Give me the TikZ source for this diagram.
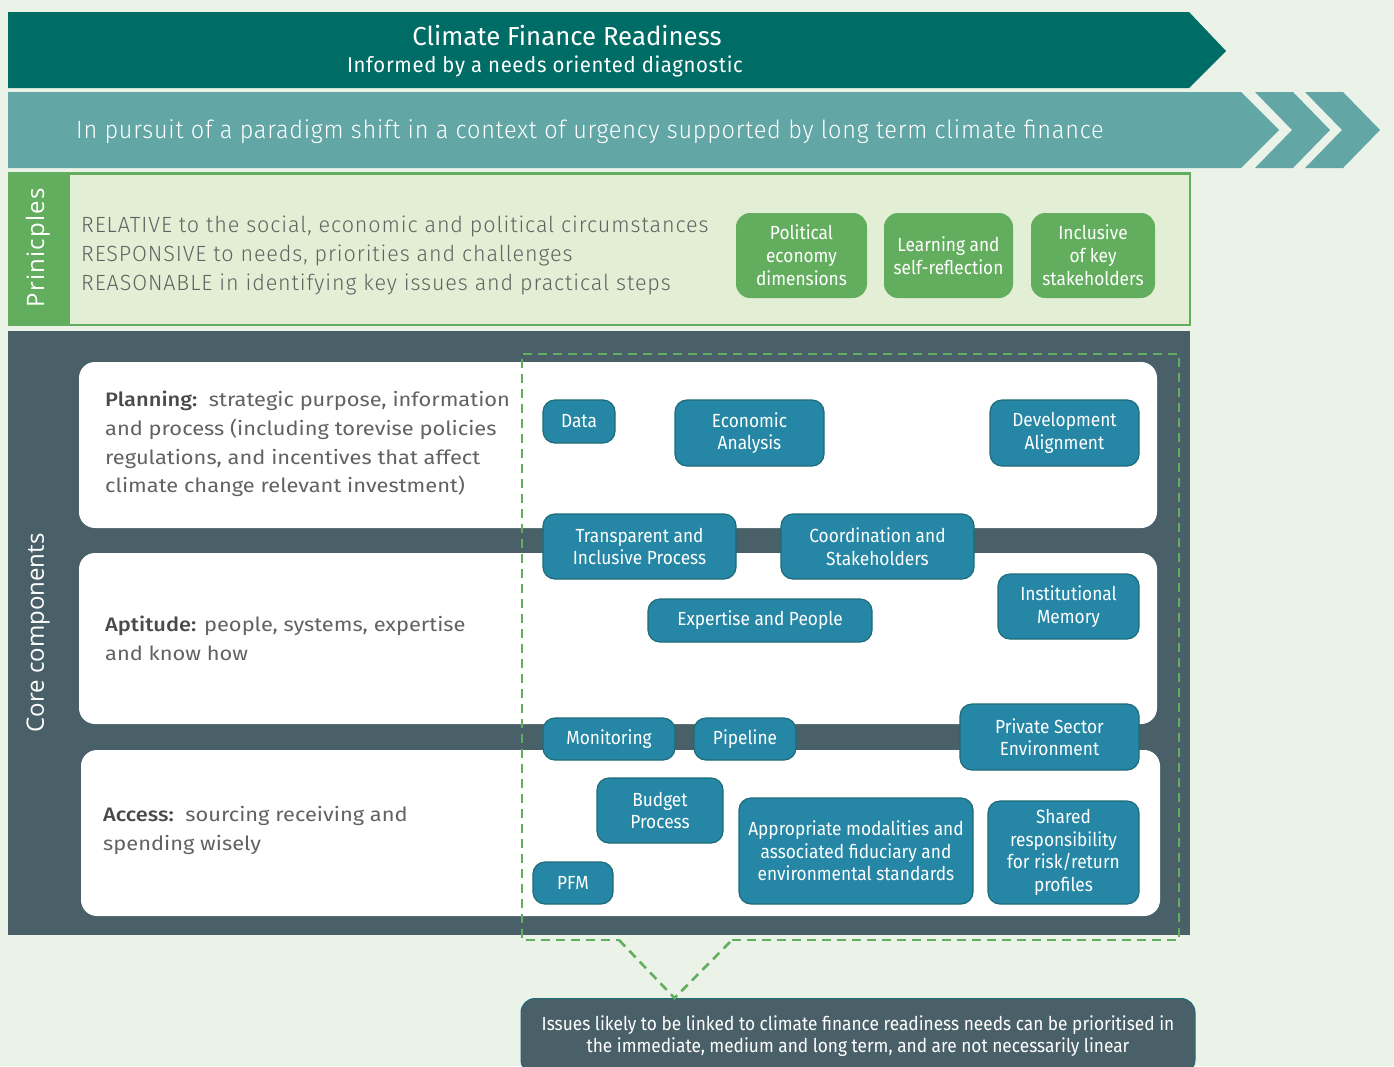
\documentclass[tikz,border=0pt]{standalone}
\usepackage{fontspec}
\usetikzlibrary{calc}
\setmainfont{Fira Sans}
\newfontfamily\condf[FakeStretch=0.91]{Fira Sans}
\newfontfamily\titlef[FakeStretch=0.99]{Fira Sans}
\newfontfamily\subf[FakeStretch=0.95,LetterSpace=3]{Fira Sans}
\newfontfamily\bannerf[FakeStretch=0.94,LetterSpace=3]{Fira Sans Light}
\newfontfamily\princf[FakeStretch=0.98,LetterSpace=4]{Fira Sans Light}
\newfontfamily\bodyf[FakeStretch=1.12,BoldFont={Fira Sans Medium}]{Fira Sans}
\newfontfamily\labelf{Open Sans}
\newfontfamily\labelwidef[LetterSpace=5]{Open Sans}

\definecolor{bg}{HTML}{EBF3E8}
\definecolor{bannerA}{HTML}{006C66}
\definecolor{bannerB}{HTML}{62A6A6}
\definecolor{leaf}{HTML}{63AE5E}
\definecolor{leaflight}{HTML}{E2EFD5}
\definecolor{slate}{HTML}{4A6068}
\definecolor{boxblue}{HTML}{2587A5}
\definecolor{boxedge}{HTML}{1D6C78}
\definecolor{bodygray}{HTML}{626262}
\definecolor{headgray}{HTML}{4A4A4A}

\begin{document}
\begin{tikzpicture}[x=1pt,y=-1pt,
  bluebox/.style={fill=boxblue,draw=boxedge,line width=1.2pt,rounded corners=12pt,
    text=white,align=center,inner sep=0pt,
    font={\condf\fontsize{19}{22.5}\selectfont}},
  greenbox/.style={fill=leaf,rounded corners=14pt,text=white,align=center,inner sep=0pt,
    font={\condf\fontsize{19}{23}\selectfont}},
  panel/.style={fill=white,rounded corners=16pt},
  bodytext/.style={anchor=west,align=left,inner sep=0pt,text=bodygray,
    font={\bodyf\fontsize{19.5}{28.8}\selectfont}},
  sidelabel/.style={rotate=90,text=white,inner sep=0pt,
    font={\labelf\fontsize{24}{28}\selectfont}},
  focusline/.style={draw=leaf,line width=2.6pt,dash pattern=on 9pt off 6pt}]

\useasboundingbox (0,0) rectangle (1394,1066);
\clip (0,0) rectangle (1394,1066);
\fill[bg] (0,0) rectangle (1394,1066);

% headline arrow
\fill[bannerA] (8,12) -- (1189,12) -- (1226,51) -- (1189,88) -- (8,88) -- cycle;
\node[text=white,inner sep=0pt,font={\titlef\fontsize{26}{30}\selectfont}] (title) at (567,36) {Climate Finance Readiness};
\node[text=white,inner sep=0pt,font={\subf\fontsize{21.4}{25}\selectfont}] (subtitle) at (545,66) {Informed by a needs oriented diagnostic};

% paradigm arrow with two chevrons
\fill[bannerB] (8,92) -- (1241,92) -- (1279,130) -- (1241,168) -- (8,168) -- cycle;
\fill[bannerB] (1255,92) -- (1293,92) -- (1330,130) -- (1293,168) -- (1255,168) -- (1292,130) -- cycle;
\fill[bannerB] (1305,92) -- (1343,92) -- (1380,130) -- (1343,168) -- (1305,168) -- (1342,130) -- cycle;
\node[anchor=west,text=white,inner sep=0pt,font={\bannerf\fontsize{25}{28}\selectfont}] (pursuit) at (76,132)
  {In pursuit of a paradigm shift in a context of urgency supported by long term climate finance};

% principles band
\fill[leaf] (8,172) rectangle (69,326);
\filldraw[fill=leaflight,draw=leaf,line width=2.5pt] (69,173.5) rectangle (1190,325);
\node[sidelabel,font={\labelwidef\fontsize{24}{28}\selectfont}] (principles) at (38,248) {Prinicples};
\node[anchor=west,align=left,inner sep=0pt,text=bodygray,font={\princf\fontsize{22}{29}\selectfont}] (rules) at (81,255)
  {RELATIVE to the social, economic and political circumstances\\
   RESPONSIVE to needs, priorities and challenges\\
   REASONABLE in identifying key issues and practical steps};
\node[greenbox,minimum width=131,minimum height=85] (political) at (801.5,255.5) {Political\\economy\\dimensions};
\node[greenbox,minimum width=129,minimum height=85] (learning) at (948.5,255.5) {Learning and\\self-reflection};
\node[greenbox,minimum width=124,minimum height=85] (inclusive) at (1093,255.5) {Inclusive\\of key\\stakeholders};

% core components frame and panels
\fill[slate] (8,331) rectangle (1190,935);
\node[sidelabel] (core) at (38,633) {Core components};
\fill[panel] (79,362) rectangle (1157,528);
\fill[panel] (79,553) rectangle (1157,724);
\fill[panel] (81,750) rectangle (1160,916);

\node[bodytext] (planning) at (105,444)
  {\textcolor{headgray}{\bfseries Planning:}\ \ strategic purpose, information\\
   and process (including torevise policies\\
   regulations, and incentives that affect\\
   climate change relevant investment)};
\node[bodytext] (aptitude) at (105,638)
  {\textcolor{headgray}{\bfseries Aptitude:} people, systems, expertise\\
   and know how};
\node[bodytext] (access) at (103,830.5)
  {\textcolor{headgray}{\bfseries Access:}\ \ sourcing receiving and\\
   spending wisely};

% dashed focus area with its pointer to the note
\coordinate (gapL) at (619,940);
\coordinate (gapR) at (732,940);
\draw[focusline] (gapR) -- (1179,940) -- (1179,354) -- (522,354) -- (522,940) -- (gapL);

% readiness issues
\node[bluebox,minimum width=72,minimum height=43] (data) at (579,421.5) {Data};
\node[bluebox,minimum width=149,minimum height=66] (econ) at (749.5,433) {Economic\\Analysis};
\node[bluebox,minimum width=149,minimum height=66] (devalign) at (1064.5,433) {Development\\Alignment};
\node[bluebox,minimum width=193,minimum height=65] (transp) at (639.5,546.5) {Transparent and\\Inclusive Process};
\node[bluebox,minimum width=193,minimum height=65] (coord) at (877.5,546.5) {Coordination and\\Stakeholders};
\node[bluebox,minimum width=224,minimum height=43] (expert) at (760,620.5) {Expertise and People};
\node[bluebox,minimum width=141,minimum height=65] (instmem) at (1068.5,606.5) {Institutional\\Memory};
\node[bluebox,minimum width=132,minimum height=42] (monit) at (609,739) {Monitoring};
\node[bluebox,minimum width=102,minimum height=42] (pipe) at (745,739) {Pipeline};
\node[bluebox,minimum width=179,minimum height=66] (private) at (1049.5,737) {Private Sector\\Environment};
\node[bluebox,minimum width=126,minimum height=65] (budget) at (660,810.5) {Budget\\Process};
\node[bluebox,minimum width=234,minimum height=106] (approp) at (856,851) {Appropriate modalities and\\associated fiduciary and\\environmental standards};
\node[bluebox,minimum width=151,minimum height=103] (shared) at (1063.5,852.5) {Shared\\responsibility\\for risk/return\\profiles};
\node[bluebox,minimum width=80,minimum height=42] (pfm) at (573,883) {PFM};

% prioritisation note
\node[anchor=north,fill=slate,draw=boxedge,line width=1pt,rounded corners=14pt,
  text=white,align=center,minimum width=674,inner xsep=10pt,inner ysep=17pt,
  font={\condf\fontsize{19}{22.5}\selectfont}] (issues) at (858,998)
  {Issues likely to be linked to climate finance readiness needs can be prioritised in\\
   the immediate, medium and long term, and are not necessarily linear};
\coordinate (tip) at ($(issues.north west)+(154,0)$);
\draw[focusline] (gapL) -- (tip) -- (gapR);
\end{tikzpicture}
\end{document}
